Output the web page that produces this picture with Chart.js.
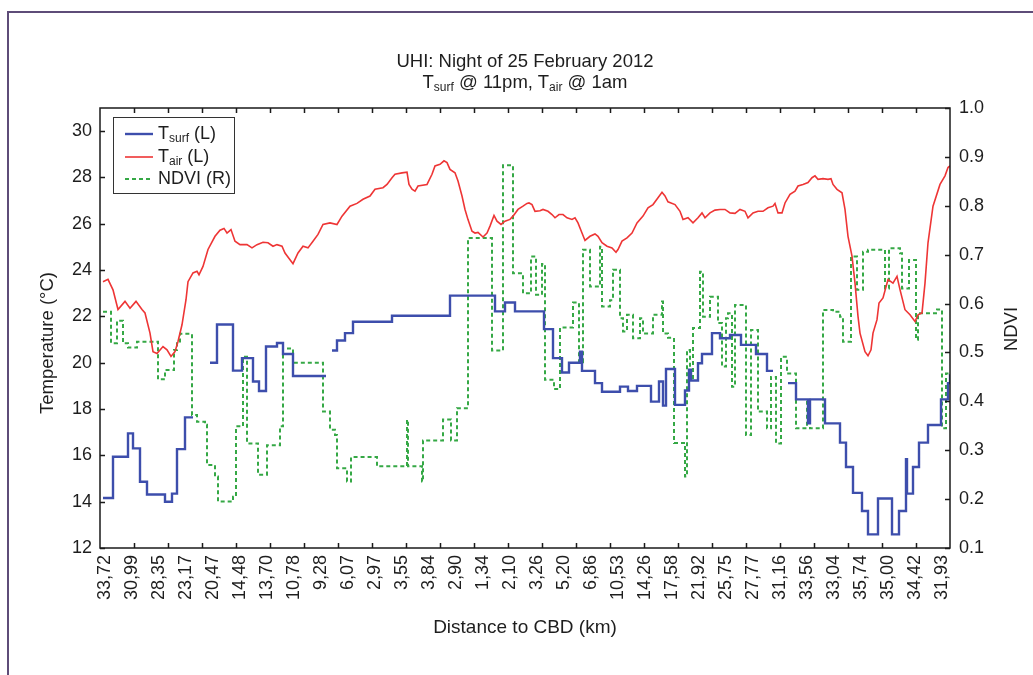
<!DOCTYPE html>
<html><head><meta charset="utf-8">
<script src="https://cdn.jsdelivr.net/npm/chart.js@4/dist/chart.umd.min.js"></script>
<style>
html,body{margin:0;padding:0;background:#fff;overflow:hidden;}
#wrap{position:relative;width:1033px;height:675px;overflow:hidden;background:#fff;}
#frame{position:absolute;left:7px;top:11px;width:1200px;height:900px;border-left:2px solid #5e4c78;border-top:2px solid #5e4c78;pointer-events:none;}
canvas{position:absolute;left:0;top:0;}
.txt{font-family:"Liberation Sans",Arial,sans-serif;color:#1e1e1e;}
#title{position:absolute;left:100px;width:850px;top:50px;text-align:center;font-size:18.5px;line-height:21px;}
sub{font-size:12px;vertical-align:-3px;line-height:0;}
#legend{position:absolute;left:113px;top:117px;width:120px;height:75px;border:1.5px solid #333;background:#fff;font-size:18px;}
#legend .row{position:absolute;left:0;height:22px;line-height:22px;white-space:nowrap;}
#legend svg{position:absolute;left:11px;top:10px;}
#legend .lab{position:absolute;left:44px;top:0;}
.vt{position:absolute;white-space:nowrap;font-size:18.5px;transform:translate(-50%,-50%) rotate(-90deg);}
</style></head>
<body>
<div id="wrap">
<canvas id="c" width="1033" height="675"></canvas>
<div id="frame"></div>
<div id="title" class="txt">UHI: Night of 25 February 2012<br>T<sub>surf</sub> @ 11pm, T<sub>air</sub> @ 1am</div>
<div id="legend" class="txt">
 <div class="row" style="top:4px"><svg width="28" height="4"><line x1="0" y1="2" x2="28" y2="2" stroke="#3d4eac" stroke-width="2.4"/></svg><span class="lab">T<sub>surf</sub> (L)</span></div>
 <div class="row" style="top:27px"><svg width="28" height="4"><line x1="0" y1="2" x2="28" y2="2" stroke="#ee3535" stroke-width="1.6"/></svg><span class="lab">T<sub>air</sub> (L)</span></div>
 <div class="row" style="top:49px"><svg width="28" height="4"><line x1="0" y1="2" x2="28" y2="2" stroke="#35a845" stroke-width="2" stroke-dasharray="4 3"/></svg><span class="lab">NDVI (R)</span></div>
</div>
<div class="txt vt" style="left:47px;top:343px;">Temperature (°C)</div>
<div class="txt vt" style="left:1011px;top:329px;">NDVI</div>
</div>
<script>
// x = sample index along the transect (0..850); labels = distance to CBD (km)
const distanceLabels = ['33,72','30,99','28,35','23,17','20,47','14,48','13,70','10,78','9,28','6,07','2,97','3,55','3,84','2,90','1,34','2,10','3,26','5,20','6,86','10,53','14,26','17,58','21,92','25,75','27,77','31,16','33,56','33,04','35,74','35,00','34,42','31,93'];
const tempTicks = [12,14,16,18,20,22,24,26,28,30];
const ndviTicks = [0.1,0.2,0.3,0.4,0.5,0.6,0.7,0.8,0.9,1.0];

// Air temperature (°C), left axis
const tairSeries = [[3,23.5],[8,23.6],[13,23.15],[18,22.3],[25,22.65],[30,22.35],[36,22.65],[42,22.3],[45,22.15],[50,21.28],[53,20.48],[57,20.4],[63,20.7],[67,20.56],[71,20.27],[75,20.48],[78,20.92],[82,21.64],[86,22.72],[88,23.5],[93,23.88],[97,23.95],[99,23.8],[103,24.16],[108,24.89],[115,25.46],[120,25.72],[124,25.8],[127,25.6],[131,25.75],[135,25.25],[140,25.1],[147,25.1],[152,24.96],[157,25.1],[163,25.2],[168,25.18],[173,25.03],[177,25.1],[182,25.03],[185,24.74],[190,24.45],[193,24.28],[198,24.74],[203,25.03],[208,24.96],[213,25.25],[218,25.54],[223,25.97],[230,26.04],[237,25.97],[242,26.33],[250,26.76],[257,26.88],[263,27.06],[270,27.2],[275,27.49],[283,27.56],[287,27.7],[292,27.99],[295,28.14],[302,28.2],[307,28.23],[309,27.7],[312,27.49],[315,27.41],[318,27.63],[327,27.7],[332,28.14],[335,28.5],[340,28.57],[344,28.72],[347,28.64],[350,28.35],[355,28.2],[358,27.85],[362,27.2],[365,26.62],[368,26.18],[372,25.68],[375,25.6],[378,25.63],[383,25.43],[387,25.6],[390,25.9],[394,26.36],[397,26.11],[401,25.97],[405,26.11],[410,26.19],[413,26.33],[418,26.62],[423,26.76],[427,26.88],[429,26.9],[432,26.83],[435,26.54],[440,26.56],[443,26.62],[448,26.54],[452,26.4],[455,26.26],[459,26.4],[463,26.4],[467,26.26],[472,26.19],[475,26.26],[478,26.04],[482,25.6],[485,25.28],[490,25.46],[495,25.56],[498,25.46],[502,25.18],[507,25.03],[512,24.96],[516,24.77],[518,24.89],[522,25.25],[527,25.39],[532,25.6],[537,26.04],[543,26.33],[548,26.69],[553,26.83],[558,27.12],[562,27.36],[565,27.2],[568,26.95],[575,26.83],[580,26.54],[583,26.19],[588,26.26],[593,26.04],[598,26.26],[602,26.47],[605,26.26],[610,26.47],[615,26.59],[620,26.62],[625,26.62],[630,26.47],[635,26.45],[640,26.62],[645,26.54],[648,26.26],[653,26.47],[658,26.54],[663,26.54],[668,26.69],[673,26.76],[675,26.88],[678,26.47],[682,26.47],[685,26.9],[690,27.27],[695,27.41],[698,27.63],[703,27.7],[708,27.78],[712,27.99],[715,28.07],[718,27.92],[723,27.95],[728,27.92],[731,27.95],[733,27.7],[737,27.49],[742,27.34],[745,26.62],[748,25.46],[752,24.6],[755,23.44],[758,22.0],[760,21.28],[765,20.48],[768,20.3],[771,20.56],[773,21.28],[777,21.86],[779,22.58],[783,22.8],[788,23.59],[793,23.44],[797,23.73],[800,23.16],[805,22.29],[810,22.07],[815,21.78],[818,22.07],[822,22.15],[825,23.44],[828,25.18],[833,26.76],[840,27.7],[845,28.07],[848,28.43],[850,28.5]];

// Surface temperature (°C), left axis — stepped; null = no data
const tsurfSeries = [[3,14.16],[13,15.94],[28,16.95],[33,16.3],[40,14.86],[47,14.31],[65,14.0],[72,14.35],[77,16.27],[85,17.64],[93,17.64],[100,null],[110,20.0],[117,21.65],[133,19.66],[142,20.2],[153,19.19],[159,18.78],[166,20.7],[177,20.85],[183,20.38],[193,19.43],[226,19.43],[229,null],[232,20.53],[237,20.96],[245,21.28],[253,21.77],[292,22.03],[350,22.9],[395,22.22],[405,22.6],[415,22.22],[444,21.45],[453,20.2],[462,19.58],[469,20.0],[480,20.48],[482,19.65],[495,19.12],[502,18.75],[520,18.97],[528,18.78],[537,19.0],[551,18.32],[559,19.19],[563,18.15],[566,19.73],[575,18.18],[585,18.8],[589,19.7],[591,19.23],[598,19.98],[602,20.38],[612,21.28],[620,21.06],[630,21.2],[641,20.77],[656,20.38],[667,19.65],[673,19.65],[680,null],[688,19.12],[696,18.42],[708,17.38],[710,18.42],[725,17.38],[740,16.55],[746,15.5],[753,14.38],[762,13.6],[768,12.59],[778,14.14],[792,12.59],[799,13.6],[806,15.83],[807,14.35],[813,15.5],[819,16.55],[828,17.31],[841,18.42],[848,19.12],[850,19.5]];

// NDVI, right axis — stepped
const ndviSeries = [[3,0.583],[11,0.519],[17,0.565],[23,0.519],[28,0.51],[37,0.522],[58,0.445],[65,0.464],[74,0.505],[77,0.519],[80,0.538],[92,0.372],[97,0.358],[105,0.352],[107,0.27],[115,0.246],[118,0.195],[133,0.205],[136,0.349],[143,0.491],[147,0.314],[158,0.25],[167,0.31],[180,0.349],[183,0.508],[193,0.479],[223,0.379],[230,0.342],[235,0.331],[237,0.263],[247,0.236],[251,0.286],[277,0.267],[307,0.362],[308,0.267],[322,0.236],[323,0.32],[343,0.363],[351,0.32],[357,0.386],[368,0.734],[392,0.504],[403,0.883],[413,0.662],[423,0.621],[431,0.696],[436,0.618],[442,0.681],[445,0.444],[454,0.425],[460,0.551],[473,0.602],[479,0.48],[483,0.71],[490,0.635],[500,0.716],[502,0.594],[510,0.607],[513,0.669],[520,0.57],[523,0.543],[527,0.577],[533,0.529],[540,0.57],[543,0.539],[553,0.577],[562,0.604],[563,0.539],[568,0.53],[574,0.315],[585,0.246],[587,0.505],[590,0.444],[593,0.55],[600,0.665],[603,0.573],[610,0.614],[618,0.56],[622,0.471],[626,0.57],[628,0.58],[632,0.43],[635,0.597],[646,0.331],[651,0.546],[658,0.379],[667,0.345],[671,0.45],[676,0.314],[681,0.491],[687,0.457],[696,0.345],[707,0.403],[710,0.345],[723,0.587],[733,0.583],[740,0.573],[743,0.522],[751,0.696],[757,0.628],[763,0.706],[768,0.71],[785,0.631],[789,0.713],[800,0.703],[802,0.631],[809,0.689],[816,0.526],[818,0.58],[837,0.588],[842,0.345],[846,0.457],[850,0.457]];

const toXY = s => s.map(p => ({x: p[0], y: p[1]}));
const FONT = '"Liberation Sans", Arial, sans-serif';
const INK = '#1e1e1e';
const labelStart = 5.5, labelStep = 27.0, xDivisions = 25;

const framePlugin = {
  id: 'frameTicks',
  afterDatasetsDraw(chart) {
    const {ctx, chartArea: a, scales} = chart;
    ctx.save();
    ctx.strokeStyle = '#1a1a1a';
    ctx.lineWidth = 1.5;
    ctx.strokeRect(a.left, a.top, a.right - a.left, a.bottom - a.top);
    ctx.beginPath();
    const tl = 5;
    tempTicks.forEach(v => { const py = Math.round(scales.y.getPixelForValue(v)) + 0.5; ctx.moveTo(a.left, py); ctx.lineTo(a.left + tl, py); });
    ndviTicks.forEach(v => { const py = Math.round(scales.y1.getPixelForValue(v)) + 0.5; ctx.moveTo(a.right, py); ctx.lineTo(a.right - tl, py); });
    const xs = scales.x;
    for (let i = 1; i < xDivisions; i++) {
      const v = xs.min + (xs.max - xs.min) * i / xDivisions;
      const px = Math.round(xs.getPixelForValue(v)) + 0.5;
      ctx.moveTo(px, a.top); ctx.lineTo(px, a.top + tl);
      ctx.moveTo(px, a.bottom); ctx.lineTo(px, a.bottom - tl);
    }
    ctx.stroke();
    ctx.restore();
  }
};

new Chart(document.getElementById('c'), {
  type: 'line',
  data: {
    datasets: [
      {label: 'Tair (L)', data: toXY(tairSeries), yAxisID: 'y', borderColor: '#ee3535', borderWidth: 1.6, pointRadius: 0, tension: 0, order: 1},
      {label: 'Tsurf (L)', data: toXY(tsurfSeries), yAxisID: 'y', stepped: true, spanGaps: false, borderColor: '#3d4eac', borderWidth: 2.4, pointRadius: 0, order: 2},
      {label: 'NDVI (R)', data: toXY(ndviSeries), yAxisID: 'y1', stepped: true, borderColor: '#35a845', borderWidth: 2, borderDash: [4, 3], pointRadius: 0, order: 3}
    ]
  },
  options: {
    responsive: false,
    animation: false,
    devicePixelRatio: 1,
    layout: {padding: {top: 108, left: 0, right: 0, bottom: 0}},
    plugins: {legend: {display: false}, title: {display: false}, tooltip: {enabled: false}},
    scales: {
      x: {
        type: 'linear', min: 0, max: 850,
        afterBuildTicks: s => { s.ticks = distanceLabels.map((l, i) => ({value: labelStart + i * labelStep})); },
        afterFit: s => { s.height = 127; },
        grid: {display: false, drawTicks: false},
        border: {display: false},
        ticks: {autoSkip: false, maxRotation: 90, minRotation: 90, padding: 7, color: INK, font: {family: FONT, size: 18},
                callback: (v, i) => distanceLabels[i]},
        title: {display: true, text: 'Distance to CBD (km)', color: INK, font: {family: FONT, size: 19}, padding: {top: 0, bottom: 36}}
      },
      y: {
        position: 'left', min: 12, max: 31,
        afterBuildTicks: s => { s.ticks = tempTicks.map(v => ({value: v})); },
        afterFit: s => { s.width = 100; },
        grid: {display: false, drawTicks: false},
        border: {display: false},
        ticks: {padding: 8, color: INK, font: {family: FONT, size: 18}}
      },
      y1: {
        position: 'right', min: 0.1, max: 1.0,
        afterBuildTicks: s => { s.ticks = ndviTicks.map(v => ({value: v})); },
        afterFit: s => { s.width = 83; },
        grid: {display: false, drawTicks: false},
        border: {display: false},
        ticks: {padding: 9, color: INK, font: {family: FONT, size: 18}, callback: v => Number(v).toFixed(1)}
      }
    }
  },
  plugins: [framePlugin]
});
</script>
</body></html>
